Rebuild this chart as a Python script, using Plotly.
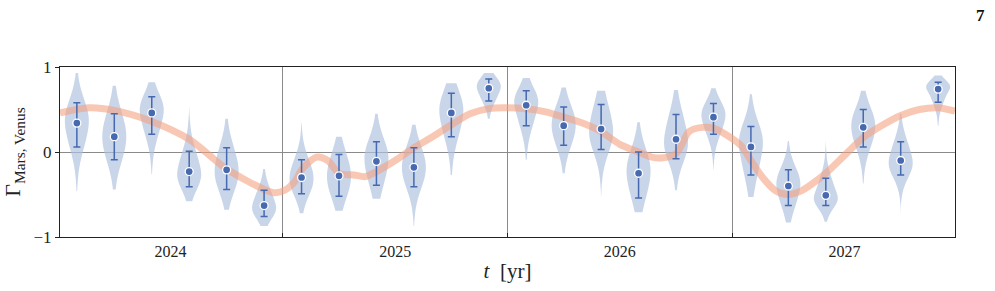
import plotly.graph_objects as go
from statistics import NormalDist

# ---- data ----
years = ["2024", "2025", "2026", "2027"]
per_year = 6
positions = list(range(24))

centers = [0.34, 0.18, 0.46, -0.23, -0.21, -0.63,
           -0.30, -0.28, -0.11, -0.18, 0.46, 0.75,
           0.55, 0.31, 0.27, -0.25, 0.15, 0.41,
           0.06, -0.40, -0.51, 0.29, -0.10, 0.74]
err_hi = [0.58, 0.45, 0.65, 0.01, 0.05, -0.45,
          -0.09, -0.03, 0.12, 0.05, 0.69, 0.86,
          0.72, 0.53, 0.56, 0.00, 0.44, 0.57,
          0.30, -0.21, -0.31, 0.50, 0.12, 0.82]
err_lo = [0.06, -0.09, 0.21, -0.41, -0.44, -0.76,
          -0.49, -0.52, -0.39, -0.41, 0.18, 0.60,
          0.31, 0.08, 0.03, -0.54, -0.08, 0.21,
          -0.27, -0.63, -0.63, 0.06, -0.27, 0.585]
vio_top = [0.93, 0.78, 0.82, 0.53, 0.39, -0.20,
           0.34, 0.18, 0.45, 0.32, 0.81, 0.93,
           0.87, 0.76, 0.72, 0.35, 0.73, 0.75,
           0.68, 0.13, 0.12, 0.72, 0.45, 0.90]
vio_bot = [-0.46, -0.44, -0.26, -0.58, -0.68, -0.87,
           -0.72, -0.69, -0.55, -0.87, -0.27, 0.39,
           -0.09, -0.25, -0.52, -0.71, -0.45, -0.21,
           -0.53, -0.83, -0.82, -0.37, -0.73, 0.31]

curve_t = [-0.45, 0.32, 1.0, 2.0, 3.0, 4.0, 5.0, 5.3, 5.55, 5.85, 6.0, 6.4, 6.7,
           7.0, 7.4, 7.7, 8.0, 8.5, 9.0, 9.5, 10.0, 10.5, 11.0, 11.4, 12.0, 12.55,
           13.0, 13.5, 14.0, 14.5, 15.0, 15.35, 15.6, 16.0, 16.35, 16.7, 17.0,
           17.35, 17.75, 18.0, 18.33, 18.67, 19.0, 19.33, 19.65, 20.0, 20.5,
           21.0, 21.45, 22.0, 22.5, 23.0, 23.45]
curve_y = [0.46, 0.52, 0.49, 0.36, 0.15, -0.20, -0.44, -0.48, -0.45, -0.33, -0.21,
           -0.06, -0.10, -0.25, -0.27, -0.29, -0.23, -0.10, 0.05, 0.18, 0.32, 0.45,
           0.51, 0.52, 0.51, 0.47, 0.41, 0.34, 0.24, 0.09, 0.00, -0.06, -0.07,
           -0.02, 0.24, 0.29, 0.28, 0.20, 0.07, -0.10, -0.31, -0.46, -0.50, -0.46,
           -0.37, -0.25, -0.04, 0.17, 0.30, 0.43, 0.50, 0.52, 0.48]

# ---- styles ----
VIOLIN_FILL = "rgba(176,193,223,0.68)"
BLUE = "#4669b0"
ORANGE = "rgba(244,160,125,0.58)"
FONT = "'Liberation Serif', 'DejaVu Serif', serif"

fig = go.Figure()

nd = NormalDist()
probs = [(k + 0.5) / 80 for k in range(80)]
for i, x in enumerate(positions):
    c = centers[i]
    s_up = err_hi[i] - c
    s_dn = c - err_lo[i]
    samples = []
    for p in probs:
        z = nd.inv_cdf(p)
        samples.append(c + z * (s_up if z > 0 else s_dn))
    fig.add_trace(go.Violin(
        x=[x] * len(samples), y=samples,
        spanmode="manual", span=[vio_bot[i], vio_top[i]],
        width=0.64, scalemode="width",
        fillcolor=VIOLIN_FILL, line=dict(width=0, color=VIOLIN_FILL),
        points=False, box_visible=False, meanline_visible=False,
        hoverinfo="skip", showlegend=False,
    ))

fig.add_trace(go.Scatter(
    x=curve_t, y=curve_y, mode="lines",
    line=dict(color=ORANGE, width=7, shape="spline", smoothing=0.8),
    hoverinfo="skip", showlegend=False,
))

fig.add_trace(go.Scatter(
    x=positions, y=centers, mode="markers",
    marker=dict(color=BLUE, size=8, line=dict(color="white", width=1.3)),
    error_y=dict(type="data", symmetric=False,
                 array=[h - c for h, c in zip(err_hi, centers)],
                 arrayminus=[c - l for c, l in zip(centers, err_lo)],
                 color=BLUE, thickness=1.5, width=3.5),
    showlegend=False,
))

label_pos = [per_year * k + (per_year - 1) / 2 for k in range(len(years))]

fig.update_layout(
    width=995, height=291,
    margin=dict(l=55, r=40, t=67, b=49),
    paper_bgcolor="white", plot_bgcolor="white",
    font=dict(family=FONT, size=16, color="#222"),
    violinmode="overlay",
    xaxis=dict(
        range=[-0.45, 23.45],
        tickvals=label_pos, ticktext=years, ticks="",
        showgrid=False, zeroline=False,
        showline=True, linecolor="#222", linewidth=1.2, mirror=True,
        minor=dict(tick0=-0.5, dtick=per_year, showgrid=True,
                   gridcolor="#8a8a8a", gridwidth=1,
                   ticks="inside", ticklen=4, tickcolor="#222"),
        title=dict(text="<i>t</i>  [yr]", font=dict(family=FONT, size=21), standoff=4),
        tickfont=dict(family=FONT, size=16),
    ),
    yaxis=dict(
        range=[-1, 1],
        tickvals=[-1, 0, 1], ticktext=["−1", "0", "1"],
        ticks="outside", ticklen=4, tickcolor="#222",
        showgrid=False, zeroline=True, zerolinecolor="#8a8a8a", zerolinewidth=1,
        showline=True, linecolor="#222", linewidth=1.2, mirror=True,
        title=dict(text="Γ<sub>Mars, Venus</sub>", font=dict(family=FONT, size=22), standoff=6),
        tickfont=dict(family=FONT, size=17),
    ),
    annotations=[dict(text="<b>7</b>", xref="paper", yref="paper",
                      x=(981 - 55) / 900, y=1 + (67 - 14) / 175,
                      xanchor="center", yanchor="middle",
                      showarrow=False, font=dict(family=FONT, size=17, color="#111"))],
)

fig.write_html("out.html")
